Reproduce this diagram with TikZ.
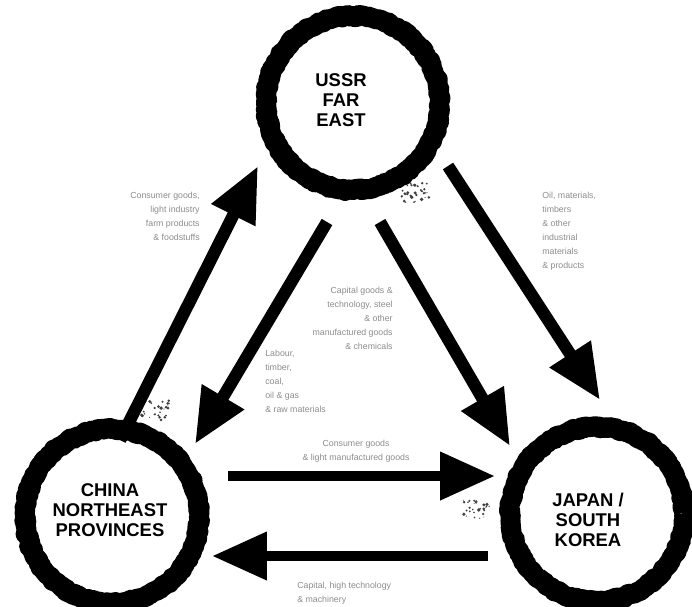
\documentclass[tikz,border=0pt]{standalone}
\usepackage{fontspec}
\setmainfont{Liberation Sans}
\usetikzlibrary{arrows.meta,decorations.pathmorphing}

\tikzset{
  hub/.style={circle,draw=black,line width=0.4cm,line join=round,minimum size=3.48cm,inner sep=0pt,
    decorate,decoration={random steps,segment length=1.3pt,amplitude=0.7pt}},
  hublbl/.style={font=\bfseries\fontsize{10.5}{11.2}\selectfont,align=center,inner sep=0pt},
  flow/.style={line width=7pt,-{Triangle[length=11mm,width=9.2mm]}},
  note/.style={font=\fontsize{5}{7.9}\selectfont,text=black!45,inner sep=0pt},
}

\begin{document}
\begin{tikzpicture}[x=0.02cm,y=-0.02cm]
\useasboundingbox (0,0) rectangle (692,606);
\pgfmathsetseed{7}
% ---------- the three regions ----------
\node[hub] (ussr) at (353,103) {};
\node[hublbl] (ussrlbl) at (341,100) {USSR\\FAR\\EAST};
\node[hub] (china) at (112,516) {};
\node[hublbl] (chinalbl) at (110,510) {CHINA\\NORTHEAST\\PROVINCES};
\node[hub] (japan) at (597,514) {};
\node[hublbl] (japanlbl) at (588,520) {JAPAN /\\SOUTH\\KOREA};
% smudges of ink
\foreach \cx/\cy in {415/193,155/410,476/510}{
  \foreach \k in {1,...,30}{
    \fill[black!75] (\cx+rand*14,\cy+rand*10) circle (0.5+rnd*1.4);
  }
}
% ---------- arrow ends ----------
\coordinate (cu0) at (120,440); \coordinate (cu1) at (258,166);
\coordinate (uc0) at (327,222); \coordinate (uc1) at (195,444);
\coordinate (uj0) at (380,222); \coordinate (uj1) at (510,446);
\coordinate (uk0) at (448,166); \coordinate (uk1) at (600,400);
\coordinate (cj0) at (228,476); \coordinate (cj1) at (495,476);
\coordinate (jc0) at (488,556); \coordinate (jc1) at (212,556);
% ---------- flows ----------
\draw[flow] (cu0) -- (cu1);
\draw[flow] (uc0) -- (uc1);
\draw[flow] (uj0) -- (uj1);
\draw[flow] (uk0) -- (uk1);
\draw[flow,line width=6pt] (cj0) -- (cj1);
\draw[flow,line width=6pt] (jc0) -- (jc1);
% ---------- what moves ----------
\node[note,align=right,anchor=north east] (goodsup) at (200,192)
  {Consumer goods,\\light industry\\farm products\\\& foodstuffs};
\node[note,align=left,anchor=north west] (oilflow) at (542,192)
  {Oil, materials,\\timbers\\\& other\\industrial\\materials\\\& products};
\node[note,align=right,anchor=north east] (capflow) at (393,287)
  {Capital goods \&\\technology, steel\\\& other\\manufactured goods\\\& chemicals};
\node[note,align=left,anchor=north west] (rawflow) at (265,350)
  {Labour,\\timber,\\coal,\\oil \& gas\\\& raw materials};
\node[note,align=center,anchor=south] (consflow) at (356,463)
  {Consumer goods\\\& light manufactured goods};
\node[note,align=left,anchor=north west] (techflow) at (297,582)
  {Capital, high technology\\\& machinery};
\end{tikzpicture}
\end{document}
